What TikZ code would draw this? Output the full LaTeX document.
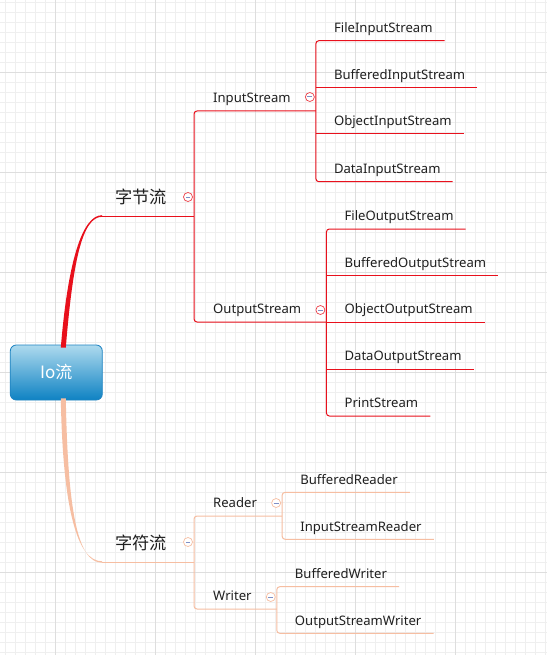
\documentclass[tikz,border=0pt]{standalone}
\usepackage{fontspec}
\setmainfont{Noto Sans}
\newfontfamily\cjk{Noto Sans CJK SC}
\usetikzlibrary{calc}

\definecolor{byteRed}{HTML}{E8101C}
\definecolor{charPeach}{HTML}{F6BEA2}
\definecolor{foldBlue}{HTML}{7F8FC6}
\definecolor{ioTop}{HTML}{AEDAEE}
\definecolor{ioBottom}{HTML}{0E82C3}
\definecolor{ioEdge}{HTML}{1F84C2}
\definecolor{gridMinor}{HTML}{EFEFEF}
\definecolor{gridMajor}{HTML}{DEDEDE}

\tikzset{
    root/.style={rectangle, rounded corners=6pt, draw=ioEdge, line width=0.8pt, top color=ioTop, bottom color=ioBottom, minimum width=92pt, minimum height=55pt, text=white, font=\cjk\fontsize{17}{20}\selectfont},
    main/.style={anchor=south west, inner xsep=0pt, inner ysep=9.7pt, text height=13pt, text depth=3pt, text=black!88, font=\cjk\fontsize{17.2}{20}\selectfont, execute at begin node=\hspace*{13pt}, execute at end node=\hspace*{27pt}},
    sub/.style={anchor=south west, inner xsep=0pt, inner ysep=5pt, text height=10pt, text depth=3pt, text=black!88, font=\fontsize{13.1}{15}\selectfont, execute at begin node=\hspace*{19pt}, execute at end node=\hspace*{25pt}},
    leaf/.style={anchor=south west, inner xsep=0pt, inner ysep=5pt, text height=10pt, text depth=3pt, text=black!88, font=\fontsize{13.1}{15}\selectfont, execute at begin node=\hspace*{18pt}, execute at end node=\hspace*{12pt}},
    fold/.style={circle, fill=white, minimum size=9pt, inner sep=0pt, line width=0.7pt, path picture={\draw[foldBlue, line width=1pt] ($(path picture bounding box.center)+(-2.4pt,0pt)$) -- ++(4.8pt,0pt);}},
    branch/.style={line width=1pt, rounded corners=3pt}
}

\begin{document}
\begin{tikzpicture}[x=1pt, y=-1pt]
    \useasboundingbox (0,0) rectangle (547,655);
    \fill[white] (0,0) rectangle (547,655);
    \foreach \gx in {5,15,...,545} \draw[gridMinor, line width=0.8pt] (\gx,0) -- (\gx,655);
    \foreach \gy in {2,12,...,652} \draw[gridMinor, line width=0.8pt] (0,\gy) -- (547,\gy);
    \foreach \gx in {55,155,...,455} \draw[gridMajor, line width=0.8pt] (\gx,0) -- (\gx,655);
    \foreach \gy in {72,172,...,572} \draw[gridMajor, line width=0.8pt] (0,\gy) -- (547,\gy);

    \node[root] (io) at (56.3,372.5) {Io流};

    % byte streams
    \node[main] (byte) at (102,216) {字节流};
    \node[sub] (in) at (byte.south east |- 0,111) {InputStream};
    \node[sub] (out) at (byte.south east |- 0,322) {OutputStream};
    \node[leaf] (fis) at (in.south east |- 0,40.7) {FileInputStream};
    \node[leaf] (bis) at (in.south east |- 0,87.3) {BufferedInputStream};
    \node[leaf] (ois) at (in.south east |- 0,134) {ObjectInputStream};
    \node[leaf] (dis) at (in.south east |- 0,181.7) {DataInputStream};
    \node[leaf] (fos) at (out.south east |- 0,229) {FileOutputStream};
    \node[leaf] (bos) at (out.south east |- 0,275.5) {BufferedOutputStream};
    \node[leaf] (oos) at (out.south east |- 0,322) {ObjectOutputStream};
    \node[leaf] (dos) at (out.south east |- 0,369) {DataOutputStream};
    \node[leaf] (ps) at (out.south east |- 0,416) {PrintStream};

    \fill[byteRed] ($(io.north)+(4.5,3)$) .. controls +(7,-85) and +(-20,0) .. ($(byte.south west)+(0,-0.8)$) -- ($(byte.south west)+(0,0.8)$) .. controls +(-20,0) and +(7,-85) .. ($(io.north)+(9.5,3)$) -- cycle;
    \draw[byteRed, branch] (byte.south west) -- (byte.south east);
    \draw[byteRed, branch] (in.south east) -- (in.south west) -- (out.south west) -- (out.south east);
    \draw[byteRed, branch] (fis.south east) -- (fis.south west) -- (dis.south west) -- (dis.south east);
    \draw[byteRed, branch] (bis.south west) -- (bis.south east);
    \draw[byteRed, branch] (ois.south west) -- (ois.south east);
    \draw[byteRed, branch] (fos.south east) -- (fos.south west) -- (ps.south west) -- (ps.south east);
    \draw[byteRed, branch] (bos.south west) -- (bos.south east);
    \draw[byteRed, branch] (oos.south west) -- (oos.south east);
    \draw[byteRed, branch] (dos.south west) -- (dos.south east);

    % char streams
    \node[main] (char) at (102,562) {字符流};
    \node[sub] (reader) at (char.south east |- 0,516) {Reader};
    \node[sub] (writer) at (char.south east |- 0,609) {Writer};
    \node[leaf] (br) at (reader.south east |- 0,492.3) {BufferedReader};
    \node[leaf] (isr) at (reader.south east |- 0,539.3) {InputStreamReader};
    \node[leaf] (bw) at (writer.south east |- 0,586.7) {BufferedWriter};
    \node[leaf] (osw) at (writer.south east |- 0,633.3) {OutputStreamWriter};

    \fill[charPeach] ($(io.south)+(4.5,-2)$) .. controls +(2,110) and +(-25,0) .. ($(char.south west)+(0,-0.7)$) -- ($(char.south west)+(0,0.7)$) .. controls +(-25,0) and +(2,110) .. ($(io.south)+(9.5,-2)$) -- cycle;
    \draw[charPeach, branch] (char.south west) -- (char.south east);
    \draw[charPeach, branch] (reader.south east) -- (reader.south west) -- (writer.south west) -- (writer.south east);
    \draw[charPeach, branch] (br.south east) -- (br.south west) -- (isr.south west) -- (isr.south east);
    \draw[charPeach, branch] (bw.south east) -- (bw.south west) -- (osw.south west) -- (osw.south east);

    \node[fold, draw=byteRed!80] (bytefold) at ($(byte.south east)+(-6,-19)$) {};
    \node[fold, draw=byteRed!80] (infold) at ($(in.south east)+(-6,-14)$) {};
    \node[fold, draw=byteRed!80] (outfold) at ($(out.south east)+(-6,-12)$) {};
    \node[fold, draw=charPeach] (charfold) at ($(char.south east)+(-6,-20)$) {};
    \node[fold, draw=charPeach] (readerfold) at ($(reader.south east)+(-6,-13)$) {};
    \node[fold, draw=charPeach] (writerfold) at ($(writer.south east)+(-6,-12)$) {};
\end{tikzpicture}
\end{document}
